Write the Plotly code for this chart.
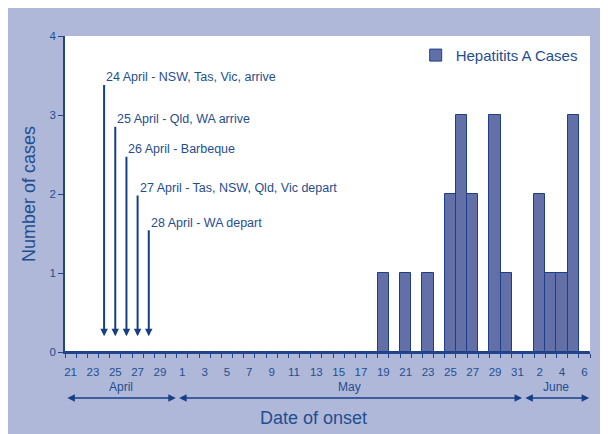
import plotly.graph_objects as go

# ---- data -------------------------------------------------------------
april_days = list(range(21, 31))          # 21..30 April
may_days = list(range(1, 32))             # 1..31 May
june_days = list(range(1, 7))             # 1..6 June

april_cases = [0, 0, 0, 0, 0, 0, 0, 0, 0, 0]
may_cases = [0, 0, 0, 0, 0, 0, 0, 0, 0, 0, 0, 0, 0, 0, 0, 0, 0, 0,
             1, 0, 1, 0, 1, 0, 2, 3, 2, 0, 3, 1, 0]
june_cases = [0, 2, 1, 1, 3, 0]

month_names = ["April", "May", "June"]

event_days = [24, 25, 26, 27, 28]        # April
event_texts = ["24 April - NSW, Tas, Vic, arrive",
               "25 April - Qld, WA arrive",
               "26 April - Barbeque",
               "27 April - Tas, NSW, Qld, Vic depart",
               "28 April - WA depart"]
event_tops = [3.4, 2.87, 2.49, 2.0, 1.56]
event_base = 0.2

y_ticks = [0, 1, 2, 3, 4]

# ---- derived ----------------------------------------------------------
day_labels = [str(d) for d in april_days + may_days + june_days]
cases = april_cases + may_cases + june_cases
xs = list(range(len(day_labels)))
month_lengths = [len(april_days), len(may_days), len(june_days)]

TEXT = "#1F4E8F"
AXIS = "#23448A"
BAR = "#6370A8"
BAR_EDGE = "#1E3F88"
ARROW = "#173F88"
BG = "#B0B8DA"
FONT = "Arial, Liberation Sans, sans-serif"

fig = go.Figure()
fig.add_trace(go.Bar(
    x=xs, y=cases, width=1.0, name="Hepatitits A Cases",
    marker=dict(color=BAR, line=dict(color=BAR_EDGE, width=1)),
    showlegend=True,
))

annotations = []

# event arrows + labels
for d, txt, top in zip(event_days, event_texts, event_tops):
    xi = april_days.index(d)
    annotations.append(dict(
        x=xi, y=event_base, ax=xi, ay=top, xref="x", yref="y",
        axref="x", ayref="y", text="", showarrow=True,
        arrowhead=2, arrowsize=0.75, arrowwidth=2, arrowcolor=ARROW,
    ))
    annotations.append(dict(
        x=xi, y=top, xref="x", yref="y", text=txt, showarrow=False,
        xanchor="left", yanchor="bottom", xshift=0, yshift=-3,
        font=dict(family=FONT, size=12.5, color=TEXT),
    ))

# month labels and brackets
start = 0
for name, n in zip(month_names, month_lengths):
    lo, hi = start - 0.5, start + n - 0.5
    annotations.append(dict(
        x=(lo + hi) / 2, y=-0.111, xref="x", yref="paper", text=name,
        xanchor="center", yanchor="middle",
        showarrow=False, font=dict(family=FONT, size=12, color=TEXT),
    ))
    annotations.append(dict(
        x=hi - 0.08, y=-0.1456, ax=lo + 0.08, ay=0, xref="x", yref="paper",
        axref="x", ayref="pixel", text="", showarrow=True,
        arrowhead=2, arrowside="end+start", arrowsize=1, arrowwidth=1.5,
        arrowcolor=ARROW,
    ))
    start += n

# x axis title
annotations.append(dict(
    x=0.4724, y=-0.209, xref="paper", yref="paper",
    xanchor="center", yanchor="middle",
    text="Date of onset", showarrow=False,
    font=dict(family=FONT, size=18, color=TEXT),
))

fig.update_layout(
    width=600, height=426,
    margin=dict(l=57, r=18, t=28, b=82),
    paper_bgcolor=BG, plot_bgcolor="white",
    bargap=0,
    font=dict(family=FONT, color=TEXT),
    annotations=annotations,
    legend=dict(x=0.668, y=0.991, xanchor="left", yanchor="top",
                bgcolor="rgba(0,0,0,0)", font=dict(family=FONT, size=15, color=TEXT)),
    xaxis=dict(
        range=[-0.5, len(xs) - 0.5],
        tickmode="array", tickvals=xs[::2], ticktext=day_labels[::2],
        ticks="", ticklabelstandoff=8,
        tickfont=dict(family=FONT, size=11.5, color=TEXT),
        showline=True, linecolor=AXIS, linewidth=1.5,
        showgrid=False, zeroline=False,
        minor=dict(ticks="outside", ticklen=4, tickcolor=AXIS, tickwidth=1,
                   tick0=-0.5, dtick=1, showgrid=False),
    ),
    yaxis=dict(
        range=[0, 4], tickmode="array", tickvals=y_ticks,
        ticks="outside", ticklen=5, tickcolor=AXIS, tickwidth=1,
        tickfont=dict(family=FONT, size=11.5, color=TEXT),
        showline=True, linecolor=AXIS, linewidth=1.5,
        showgrid=False, zeroline=False,
        title=dict(text="Number of cases", standoff=9,
                   font=dict(family=FONT, size=18, color=TEXT)),
    ),
)

fig.write_html("out.html")
